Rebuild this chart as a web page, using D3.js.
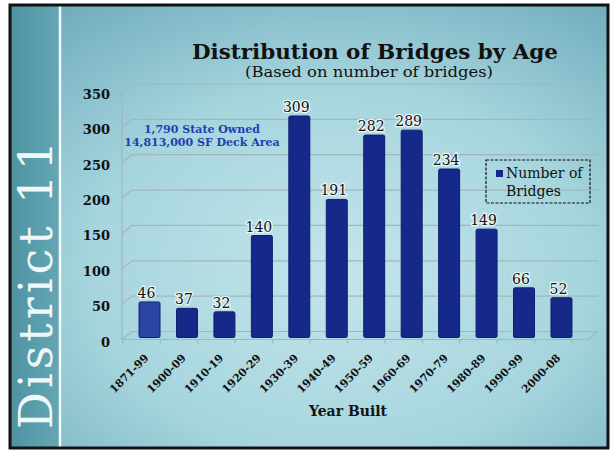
<!DOCTYPE html>
<html>
<head>
<meta charset="utf-8">
<script src="https://cdn.jsdelivr.net/npm/d3@7"></script>
<style>
  body { margin: 0; background: #fff; }
  svg { display: block; }
  text { font-family: "DejaVu Serif", serif; }
</style>
</head>
<body>
<svg id="chart" width="613" height="455"></svg>
<script>
// ---- data ----
const categories = ["1871-99","1900-09","1910-19","1920-29","1930-39","1940-49","1950-59","1960-69","1970-79","1980-89","1990-99","2000-08"];
const bridgeCounts = [46, 37, 32, 140, 309, 191, 282, 289, 234, 149, 66, 52];
const yTicks = [0, 50, 100, 150, 200, 250, 300, 350];
const seriesName = ["Number of", "Bridges"];
const titleText = "Distribution of Bridges by Age";
const subtitleText = "(Based on number of bridges)";
const noteLines = ["1,790 State Owned", "14,813,000 SF Deck Area"];
const xTitle = "Year Built";
const sideLabel = "District 11";

const svg = d3.select("#chart");
const W = 613, H = 455;

// ---- background ----
const defs = svg.append("defs");
const rg = defs.append("radialGradient").attr("id", "bg")
  .attr("cx", "0.55").attr("cy", "0.6").attr("r", "0.75");
rg.append("stop").attr("offset", "0").attr("stop-color", "#c4e5eb");
rg.append("stop").attr("offset", "0.55").attr("stop-color", "#a6d5de");
rg.append("stop").attr("offset", "1").attr("stop-color", "#70adbd");
const sg = defs.append("linearGradient").attr("id", "strip").attr("x1", 0).attr("x2", 1);
sg.append("stop").attr("offset", "0").attr("stop-color", "#4f93a3");
sg.append("stop").attr("offset", "1").attr("stop-color", "#64a6b4");

svg.append("rect").attr("x", 0).attr("y", 0).attr("width", W).attr("height", H).attr("fill", "#fff");
svg.append("rect").attr("x", 10).attr("y", 5).attr("width", 598).attr("height", 443).attr("fill", "url(#bg)");
svg.append("rect").attr("x", 10).attr("y", 5).attr("width", 49).attr("height", 443).attr("fill", "url(#strip)");
svg.append("line").attr("x1", 60).attr("x2", 60).attr("y1", 5).attr("y2", 448)
  .attr("stroke", "#f4fbfc").attr("stroke-width", 2.5);
svg.append("rect").attr("x", 10).attr("y", 5).attr("width", 598).attr("height", 443)
  .attr("fill", "none").attr("stroke", "#111").attr("stroke-width", 3);

svg.append("text").attr("transform", "translate(52,283) rotate(-90)")
  .attr("text-anchor", "middle").attr("font-size", 46).attr("fill", "#eef8f8")
  .attr("letter-spacing", 4)
  .text(sideLabel);

// ---- scales ----
const y = d3.scaleLinear().domain([0, 350]).range([334.5, 87]);
const x = d3.scaleBand().domain(categories).range([130.8, 580.2]).paddingInner(0.44).paddingOuter(0.22);
const depthX = 10, depthY = 8;      // 3-D wall offset
const frontX = 122, backX = frontX + depthX, rightX = 598;

// ---- gridlines (back wall + side wall) ----
const grid = svg.append("g").attr("stroke", "#a2b6be").attr("stroke-width", 1.2).attr("fill", "none");
yTicks.forEach(t => {
  const yb = y(t) - 3;
  grid.append("path").attr("d", `M${frontX},${yb + depthY} L${backX},${yb} L${rightX},${yb}`);
});
grid.append("line").attr("x1", frontX).attr("x2", frontX).attr("y1", y(350) + 5).attr("y2", y(0) + 5);
// floor front edge
grid.append("line").attr("x1", frontX).attr("x2", rightX - depthX).attr("y1", y(0) + 5).attr("y2", y(0) + 5);
grid.append("line").attr("x1", rightX - depthX).attr("x2", rightX).attr("y1", y(0) + 5).attr("y2", y(0) - 3);
// small ticks on floor edge
const half = x.step() * x.paddingInner() / 2;
const tickPos = categories.map(c => x(c) - half);
tickPos.push(x(categories[categories.length - 1]) + x.bandwidth() + half);
tickPos.forEach(p => {
  grid.append("line").attr("x1", p - depthX + 2).attr("x2", p - depthX + 2).attr("y1", y(0) + 5).attr("y2", y(0) + 9);
});

// ---- y axis labels ----
svg.append("g").selectAll("text").data(yTicks).join("text")
  .attr("x", 110).attr("y", d => y(d) + 7.5).attr("dy", "0.35em")
  .attr("text-anchor", "end").attr("font-size", 13).attr("font-weight", "bold").attr("fill", "#111")
  .text(d => d);

// ---- bars ----
const bars = svg.append("g");
bars.selectAll("rect").data(bridgeCounts).join("rect")
  .attr("x", (d, i) => x(categories[i]))
  .attr("y", d => y(d))
  .attr("width", x.bandwidth())
  .attr("height", d => y(0) + 3 - y(d))
  .attr("rx", 1.5)
  .attr("fill", (d, i) => i === 0 ? "#2a46a2" : "#16288a")
  .attr("stroke", "#0f1d6e").attr("stroke-width", 1);

// ---- value labels ----
svg.append("g").selectAll("text").data(bridgeCounts).join("text")
  .attr("x", (d, i) => x(categories[i]) + x.bandwidth() / 2 - 3)
  .attr("y", d => y(d) - 4)
  .attr("text-anchor", "middle").attr("font-size", 14).attr("fill", "#111")
  .attr("stroke", "#e8f6f8").attr("stroke-width", 2.5).attr("paint-order", "stroke")
  .text(d => d);

// ---- x axis labels ----
svg.append("g").selectAll("text").data(categories).join("text")
  .attr("transform", c => `translate(${x(c) + x.bandwidth() / 2 - 3},${356}) rotate(-45)`)
  .attr("text-anchor", "end").attr("dy", "0.35em")
  .attr("font-size", 10.8).attr("font-weight", "bold").attr("fill", "#111")
  .text(c => c);

svg.append("text").attr("x", 348).attr("y", 416).attr("text-anchor", "middle")
  .attr("font-size", 14).attr("font-weight", "bold").attr("fill", "#111").text(xTitle);

// ---- titles ----
svg.append("text").attr("x", 375).attr("y", 59).attr("text-anchor", "middle")
  .attr("font-size", 20).attr("font-weight", "bold").attr("fill", "#111")
  .attr("textLength", 366).attr("lengthAdjust", "spacingAndGlyphs").text(titleText);
svg.append("text").attr("x", 369).attr("y", 77).attr("text-anchor", "middle")
  .attr("font-size", 15).attr("fill", "#111")
  .attr("textLength", 248).attr("lengthAdjust", "spacingAndGlyphs").text(subtitleText);

// ---- annotation ----
svg.append("g").selectAll("text").data(noteLines).join("text")
  .attr("x", 202).attr("y", (d, i) => 133 + i * 13).attr("text-anchor", "middle")
  .attr("font-size", 11).attr("font-weight", "bold").attr("fill", "#1f3fb0")
  .text(d => d);

// ---- legend ----
const lg = svg.append("g");
lg.append("rect").attr("x", 486).attr("y", 160).attr("width", 104).attr("height", 43)
  .attr("fill", "none").attr("stroke", "#111").attr("stroke-width", 1.2).attr("stroke-dasharray", "3,1.5");
lg.append("rect").attr("x", 496).attr("y", 170).attr("width", 7).attr("height", 7).attr("fill", "#16288a");
lg.selectAll("text.lt").data(seriesName).join("text").attr("class", "lt")
  .attr("x", 506).attr("y", (d, i) => 178 + i * 18)
  .attr("font-size", 14).attr("fill", "#111").text(d => d);
</script>
</body>
</html>
